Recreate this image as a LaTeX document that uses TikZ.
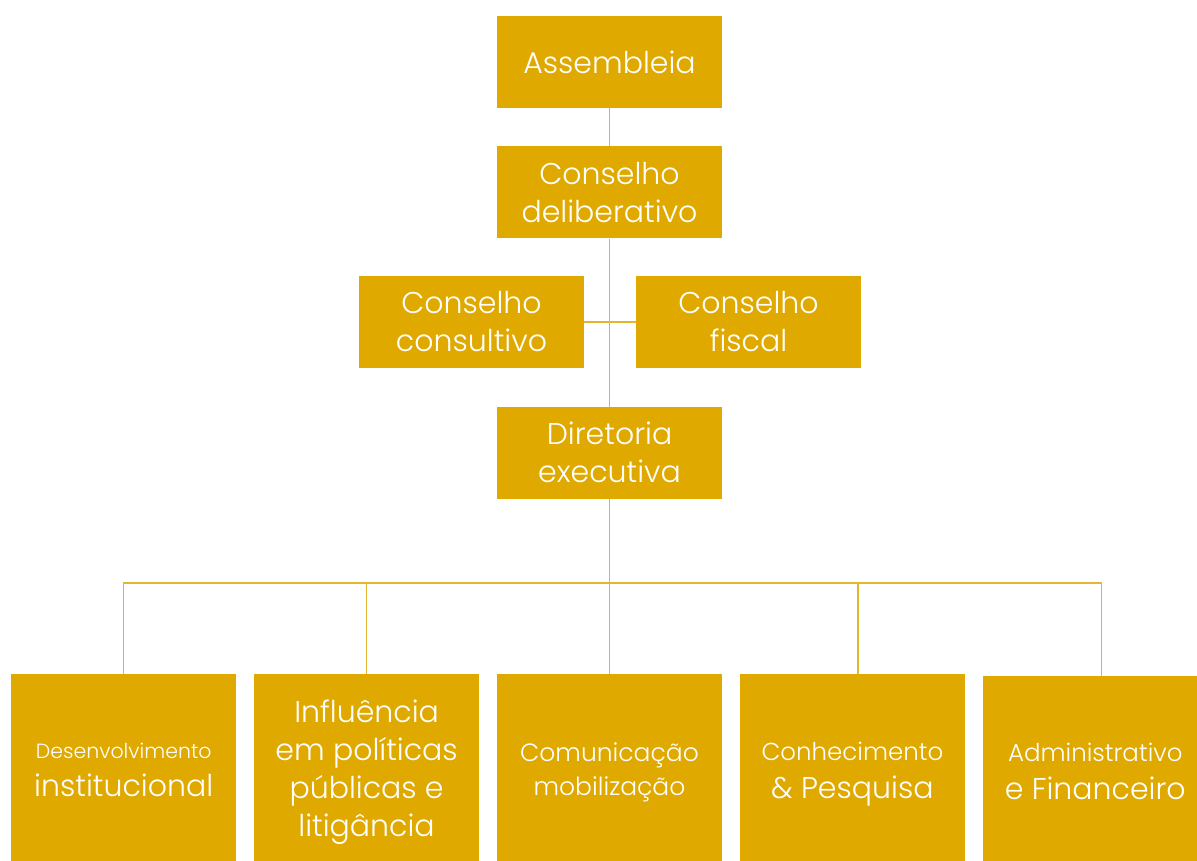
\documentclass[tikz,border=0pt]{standalone}
\usepackage{fontspec}
\setmainfont{Poppins}[UprightFont=* Light]
\usepackage{xcolor}
\usepackage{tikz}
\usetikzlibrary{positioning}

\definecolor{gold}{RGB}{224,169,0}
\definecolor{goldline}{RGB}{228,180,52}

\begin{document}
\begin{tikzpicture}[x=1pt,y=-1pt,
    unit/.style={rectangle,fill=gold,text=white,align=center,inner sep=0pt,
      minimum width=225pt,minimum height=92pt,font=\fontsize{30}{38}\selectfont},
    area/.style={unit,minimum height=187pt},
    link/.style={goldline,line width=1.4pt}]
    \useasboundingbox (0,0) rectangle (1197,860);

    \node[unit] (asm) at (609.5,62) {Assembleia};
    \node[unit,below=38pt of asm] (del) {Conselho\\deliberativo};
    \node[unit] (cons) at (471.5,322) {Conselho\\consultivo};
    \node[unit] (fis) at (748.5,322) {Conselho\\fiscal};
    \node[unit,below=168pt of del] (dir) {Diretoria\\executiva};

    % bottom row, the struts push the text a little down
    \node[area,below=175pt of dir,font=\fontsize{25}{34}\selectfont] (com) {\rule{0pt}{28.5pt}Comunica\c{c}\~ao\\mobiliza\c{c}\~ao};
    \node[area,left=17.5pt of com] (infl) {\rule{0pt}{32.5pt}Influ\^encia\\em pol\'iticas\\p\'ublicas e\\litig\^ancia};
    \node[area,left=17.5pt of infl] (desen) {{\fontsize{20.5}{24}\selectfont\rule{0pt}{19pt}Desenvolvimento}\\institucional};
    \node[area,right=17.5pt of com] (conh) {{\fontsize{24.5}{30}\selectfont\rule{0pt}{32pt}Conhecimento}\\\& Pesquisa};
    \node[area,right=17.5pt of conh,yshift=-2pt] (adm) {{\fontsize{24.5}{30}\selectfont\rule{0pt}{22pt}Administrativo}\\e Financeiro};

    \coordinate (bus) at (609.5,583);
    \draw[link] (asm) -- (del);
    \draw[link] (del) -- (dir);
    \draw[link] (cons) -- (fis);
    \draw[link] (dir) -- (com);
    \draw[link] (desen.north) -- (desen.north |- bus) -- ([xshift=6pt]adm.north |- bus) -- ([xshift=6pt]adm.north);
    \draw[link] (infl.north) -- (infl.north |- bus);
    \draw[link] ([xshift=5.5pt]conh.north) -- ([xshift=5.5pt]conh.north |- bus);
\end{tikzpicture}
\end{document}
